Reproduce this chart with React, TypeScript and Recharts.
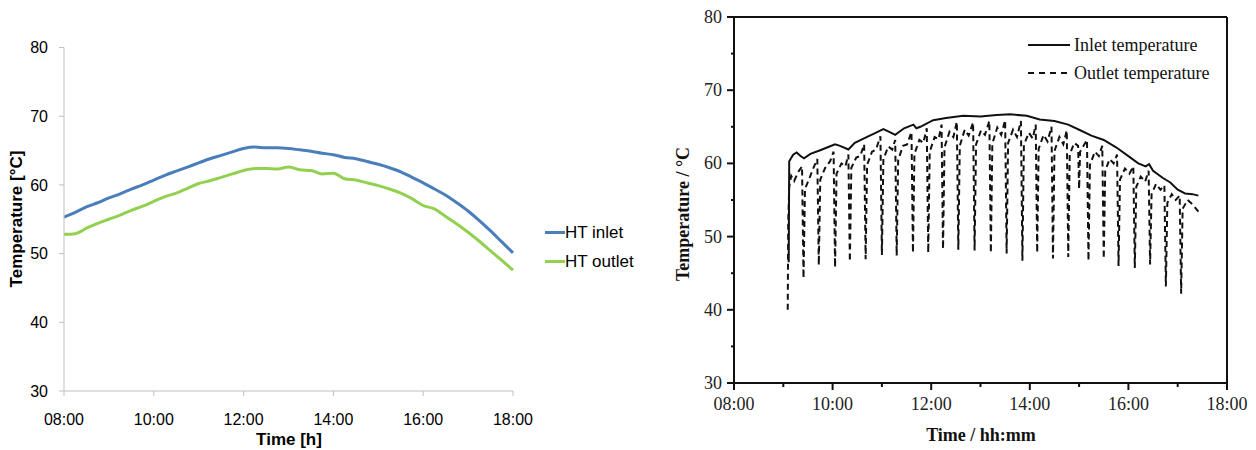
import { LineChart, Line, XAxis, YAxis, Legend, Label, ReferenceLine } from 'recharts';

// left panel: simulated HT loop, read off every quarter hour
const leftTimes = [
  8, 8.25, 8.5, 8.75, 9, 9.25, 9.5, 9.75, 10, 10.25, 10.5, 10.75, 11, 11.25, 11.5, 11.75, 12, 12.25, 12.5, 12.75, 13,
  13.25, 13.5, 13.75, 14, 14.25, 14.5, 14.75, 15, 15.25, 15.5, 15.75, 16, 16.25, 16.5, 16.75, 17, 17.25, 17.5, 17.75, 18,
];
const htInlet = [
  55.3, 56.0, 56.8, 57.4, 58.1, 58.7, 59.4, 60.0, 60.7, 61.4, 62.0, 62.6, 63.2, 63.8, 64.3, 64.8, 65.3, 65.5, 65.4, 65.4, 65.3,
  65.1, 64.9, 64.6, 64.4, 64.0, 63.8, 63.4, 63.0, 62.5, 61.9, 61.1, 60.3, 59.4, 58.5, 57.4, 56.2, 54.8, 53.3, 51.7, 50.1,
];
const htOutlet = [
  52.8, 52.9, 53.7, 54.4, 55.0, 55.6, 56.3, 56.9, 57.6, 58.3, 58.8, 59.5, 60.2, 60.6, 61.1, 61.6, 62.1, 62.4, 62.4, 62.3, 62.6,
  62.2, 62.1, 61.6, 61.7, 60.9, 60.7, 60.3, 59.9, 59.4, 58.8, 58.0, 57.0, 56.5, 55.4, 54.3, 53.1, 51.8, 50.4, 49.0, 47.6,
];
const leftXTicks = [8, 10, 12, 14, 16, 18];
const leftYTicks = [30, 40, 50, 60, 70, 80];

// right panel: measured data [hour, °C]
const inletReadings = [
  [9.11, 46.5], [9.12, 60.3], [9.2, 61.2], [9.27, 61.5], [9.35, 61.0], [9.42, 60.7], [9.55, 61.3], [9.75, 61.8],
  [9.9, 62.2], [10.05, 62.6], [10.15, 62.4], [10.32, 61.9], [10.45, 62.8], [10.69, 63.6], [10.85, 64.1], [11.03, 64.7],
  [11.15, 64.3], [11.27, 63.9], [11.45, 64.8], [11.64, 65.3], [11.7, 64.8], [11.78, 65.0], [12.04, 65.9], [12.3, 66.2],
  [12.65, 66.5], [13.0, 66.4], [13.33, 66.6], [13.6, 66.7], [13.94, 66.5], [14.2, 66.0], [14.5, 65.8], [14.78, 65.3],
  [15.0, 64.6], [15.25, 63.8], [15.5, 63.2], [15.75, 62.2], [16.0, 61.0], [16.2, 60.0], [16.35, 59.6], [16.42, 59.9],
  [16.5, 59.0], [16.7, 58.0], [16.85, 57.4], [17.0, 56.4], [17.15, 55.9], [17.3, 55.8], [17.42, 55.6],
];
const outletReadings = [
  [9.09, 40.0], [9.1, 52.0], [9.12, 56.8], [9.16, 58.3], [9.22, 57.6], [9.3, 58.8], [9.38, 59.6],
  [9.41, 44.3], [9.44, 56.5], [9.52, 57.8], [9.6, 59.2], [9.69, 60.6],
  [9.72, 46.1], [9.75, 57.8], [9.85, 59.4], [9.95, 60.3], [10.02, 61.6],
  [10.05, 45.8], [10.08, 58.6], [10.18, 60.0], [10.26, 59.6], [10.32, 61.2],
  [10.35, 46.6], [10.38, 59.4], [10.48, 60.8], [10.56, 61.0], [10.64, 62.6],
  [10.67, 46.9], [10.7, 59.8], [10.8, 61.6], [10.88, 61.9], [10.97, 63.7],
  [11.0, 47.5], [11.03, 60.6], [11.13, 62.3], [11.21, 61.9], [11.27, 63.2],
  [11.3, 47.4], [11.33, 60.5], [11.43, 62.4], [11.51, 62.6], [11.6, 64.3],
  [11.63, 47.8], [11.66, 61.3], [11.76, 63.2], [11.84, 62.8], [11.91, 64.8],
  [11.94, 47.8], [11.97, 61.6], [12.07, 63.6], [12.15, 63.3], [12.21, 65.3],
  [12.24, 48.3], [12.27, 62.2], [12.37, 64.3], [12.45, 63.6], [12.52, 65.7],
  [12.55, 48.2], [12.58, 62.4], [12.68, 64.6], [12.76, 63.8], [12.85, 65.6],
  [12.88, 48.1], [12.91, 62.6], [13.01, 64.5], [13.09, 63.9], [13.18, 65.8],
  [13.21, 47.8], [13.24, 62.7], [13.34, 64.9], [13.42, 63.9], [13.5, 65.9],
  [13.53, 47.7], [13.56, 62.8], [13.66, 64.6], [13.74, 63.6], [13.82, 65.8],
  [13.85, 46.7], [13.88, 62.5], [13.98, 64.2], [14.06, 63.4], [14.12, 65.3],
  [14.15, 47.8], [14.18, 62.0], [14.28, 63.9], [14.36, 63.0], [14.44, 65.0],
  [14.47, 47.0], [14.5, 61.7], [14.6, 63.6], [14.68, 62.6], [14.75, 64.5],
  [14.78, 47.2], [14.81, 61.2], [14.9, 62.8], [14.98, 62.4], [15.0, 56.5], [15.02, 61.6], [15.1, 62.5], [15.16, 63.2],
  [15.19, 46.7], [15.22, 59.8], [15.32, 61.6], [15.4, 61.0], [15.47, 62.4],
  [15.5, 47.0], [15.53, 59.0], [15.62, 60.6], [15.7, 60.0], [15.77, 61.2],
  [15.8, 46.0], [15.83, 57.8], [15.93, 59.3], [16.02, 58.6], [16.1, 59.6],
  [16.13, 45.7], [16.16, 56.8], [16.25, 58.2], [16.34, 57.5], [16.41, 59.0],
  [16.44, 46.2], [16.47, 55.8], [16.56, 57.2], [16.65, 56.4], [16.73, 57.0],
  [16.76, 43.2], [16.79, 54.6], [16.88, 55.8], [16.96, 55.0], [17.04, 55.6],
  [17.07, 42.2], [17.1, 53.8], [17.2, 55.0], [17.3, 54.4], [17.42, 53.4],
];
const rightXTicks = [8, 9, 10, 11, 12, 13, 14, 15, 16, 17, 18];
const rightYTicks = [30, 35, 40, 45, 50, 55, 60, 65, 70, 75, 80];

const sans = '"Liberation Sans", Arial, sans-serif';
const serif = '"Liberation Serif", "Times New Roman", serif';
const hhmm = (h: number) => `${String(h).padStart(2, '0')}:00`;

const leftData = leftTimes.map((t, i) => ({ t, inlet: htInlet[i], outlet: htOutlet[i] }));
const inletData = inletReadings.map(([t, v]) => ({ t, v }));
const outletData = outletReadings.map(([t, v]) => ({ t, v }));

const LeftLegend = ({ payload }: any) => (
  <div style={{ fontFamily: sans, fontSize: 17, color: '#000' }}>
    {(payload || []).map((e: any) => (
      <div key={e.value} style={{ display: 'flex', alignItems: 'center', height: 29 }}>
        <span style={{ display: 'inline-block', width: 20, height: 3, background: e.color }} />
        <span>{e.value}</span>
      </div>
    ))}
  </div>
);

const RightLegend = ({ payload }: any) => (
  <div style={{ fontFamily: serif, fontSize: 18, color: '#111' }}>
    {(payload || []).map((e: any) => (
      <div key={e.value} style={{ display: 'flex', alignItems: 'center', height: 28 }}>
        <svg width={46} height={6}>
          <line x1={0} x2={42} y1={3} y2={3} stroke="#111" strokeWidth={2}
            strokeDasharray={e.payload && e.payload.strokeDasharray ? '6 5' : undefined} />
        </svg>
        <span>{e.value}</span>
      </div>
    ))}
  </div>
);

const RightXTick = ({ x, y, payload }: any) => {
  const major = payload.value % 2 === 0;
  return (
    <g>
      <line x1={x} x2={x} y1={y} y2={y + (major ? 7 : 4)} stroke="#111" strokeWidth={2} />
      {major && (
        <text x={x} y={y + 27} textAnchor="middle" fontFamily={serif} fontSize={18} fill="#222">
          {hhmm(payload.value)}
        </text>
      )}
    </g>
  );
};

const RightYTick = ({ x, y, payload }: any) => {
  const major = payload.value % 10 === 0;
  return (
    <g>
      <line x1={x} x2={x - (major ? 7 : 3)} y1={y} y2={y} stroke="#111" strokeWidth={2} />
      {major && (
        <text x={x - 12} y={y + 6} textAnchor="end" fontFamily={serif} fontSize={18} fill="#222">
          {payload.value}
        </text>
      )}
    </g>
  );
};

const App = () => {
  return (
    <div style={{ position: 'absolute', left: 0, top: 0, width: 1256, height: 450, background: '#fff' }}>
      <div style={{ position: 'absolute', left: 0, top: 0 }}>
        <LineChart width={660} height={450} data={leftData} margin={{ top: 47.5, right: 147, bottom: 0, left: 0 }}>
          <XAxis dataKey="t" type="number" domain={[8, 18]} ticks={leftXTicks} interval={0} tickFormatter={hhmm}
            height={59} stroke="#BFBFBF" tickSize={5} tickMargin={18}
            tick={{ fill: '#000', fontFamily: sans, fontSize: 16 }}>
            <Label content={() => (
              <text x={289} y={445} textAnchor="middle" fontFamily={sans} fontSize={17} fontWeight="bold" fill="#000">
                Time [h]
              </text>
            )} />
          </XAxis>
          <YAxis type="number" domain={[30, 80]} ticks={leftYTicks} interval={0} width={64} stroke="#BFBFBF"
            tickSize={5} tickMargin={11} tick={{ fill: '#000', fontFamily: sans, fontSize: 16 }}>
            <Label content={() => (
              <text x={22} y={219} transform="rotate(-90 22 219)" textAnchor="middle" fontFamily={sans} fontSize={17}
                fontWeight="bold" fill="#000">
                Temperature [°C]
              </text>
            )} />
          </YAxis>
          <Legend layout="vertical" align="center" verticalAlign="middle" content={<LeftLegend />}
            wrapperStyle={{ left: 545, top: 218, width: 115 }} />
          <Line type="monotone" dataKey="inlet" name="HT inlet" stroke="#4A7EBB" strokeWidth={3} dot={false}
            activeDot={false} isAnimationActive={false} />
          <Line type="monotone" dataKey="outlet" name="HT outlet" stroke="#92D050" strokeWidth={3} dot={false}
            activeDot={false} isAnimationActive={false} />
        </LineChart>
      </div>
      <div style={{ position: 'absolute', left: 660, top: 0 }}>
        <LineChart width={596} height={450} margin={{ top: 17, right: 29, bottom: 0, left: 0 }}>
          <XAxis dataKey="t" type="number" domain={[8, 18]} ticks={rightXTicks} interval={0} height={67}
            axisLine={{ stroke: '#111', strokeWidth: 2 }} tickLine={false} tickSize={0} tickMargin={0}
            tick={<RightXTick />}>
            <Label content={() => (
              <text x={321} y={441} textAnchor="middle" fontFamily={serif} fontSize={18} fontWeight="bold" fill="#111">
                Time / hh:mm
              </text>
            )} />
          </XAxis>
          <YAxis type="number" domain={[30, 80]} ticks={rightYTicks} interval={0} width={74}
            axisLine={{ stroke: '#111', strokeWidth: 2 }} tickLine={false} tickSize={0} tickMargin={0}
            tick={<RightYTick />}>
            <Label content={() => (
              <text x={29} y={214} transform="rotate(-90 29 214)" textAnchor="middle" fontFamily={serif} fontSize={18}
                fontWeight="bold" fill="#111">
                Temperature / °C
              </text>
            )} />
          </YAxis>
          <ReferenceLine y={80} stroke="#111" strokeWidth={2} />
          <ReferenceLine x={18} stroke="#111" strokeWidth={2} />
          <Legend layout="vertical" align="center" verticalAlign="middle" content={<RightLegend />}
            wrapperStyle={{ left: 368, top: 31, width: 200 }} />
          <Line data={inletData} type="linear" dataKey="v" name="Inlet temperature" stroke="#111" strokeWidth={2}
            dot={false} activeDot={false} isAnimationActive={false} />
          <Line data={outletData} type="linear" dataKey="v" name="Outlet temperature" stroke="#111" strokeWidth={2}
            strokeDasharray="6 4" dot={false} activeDot={false} isAnimationActive={false} />
        </LineChart>
      </div>
    </div>
  );
};

export default App;
